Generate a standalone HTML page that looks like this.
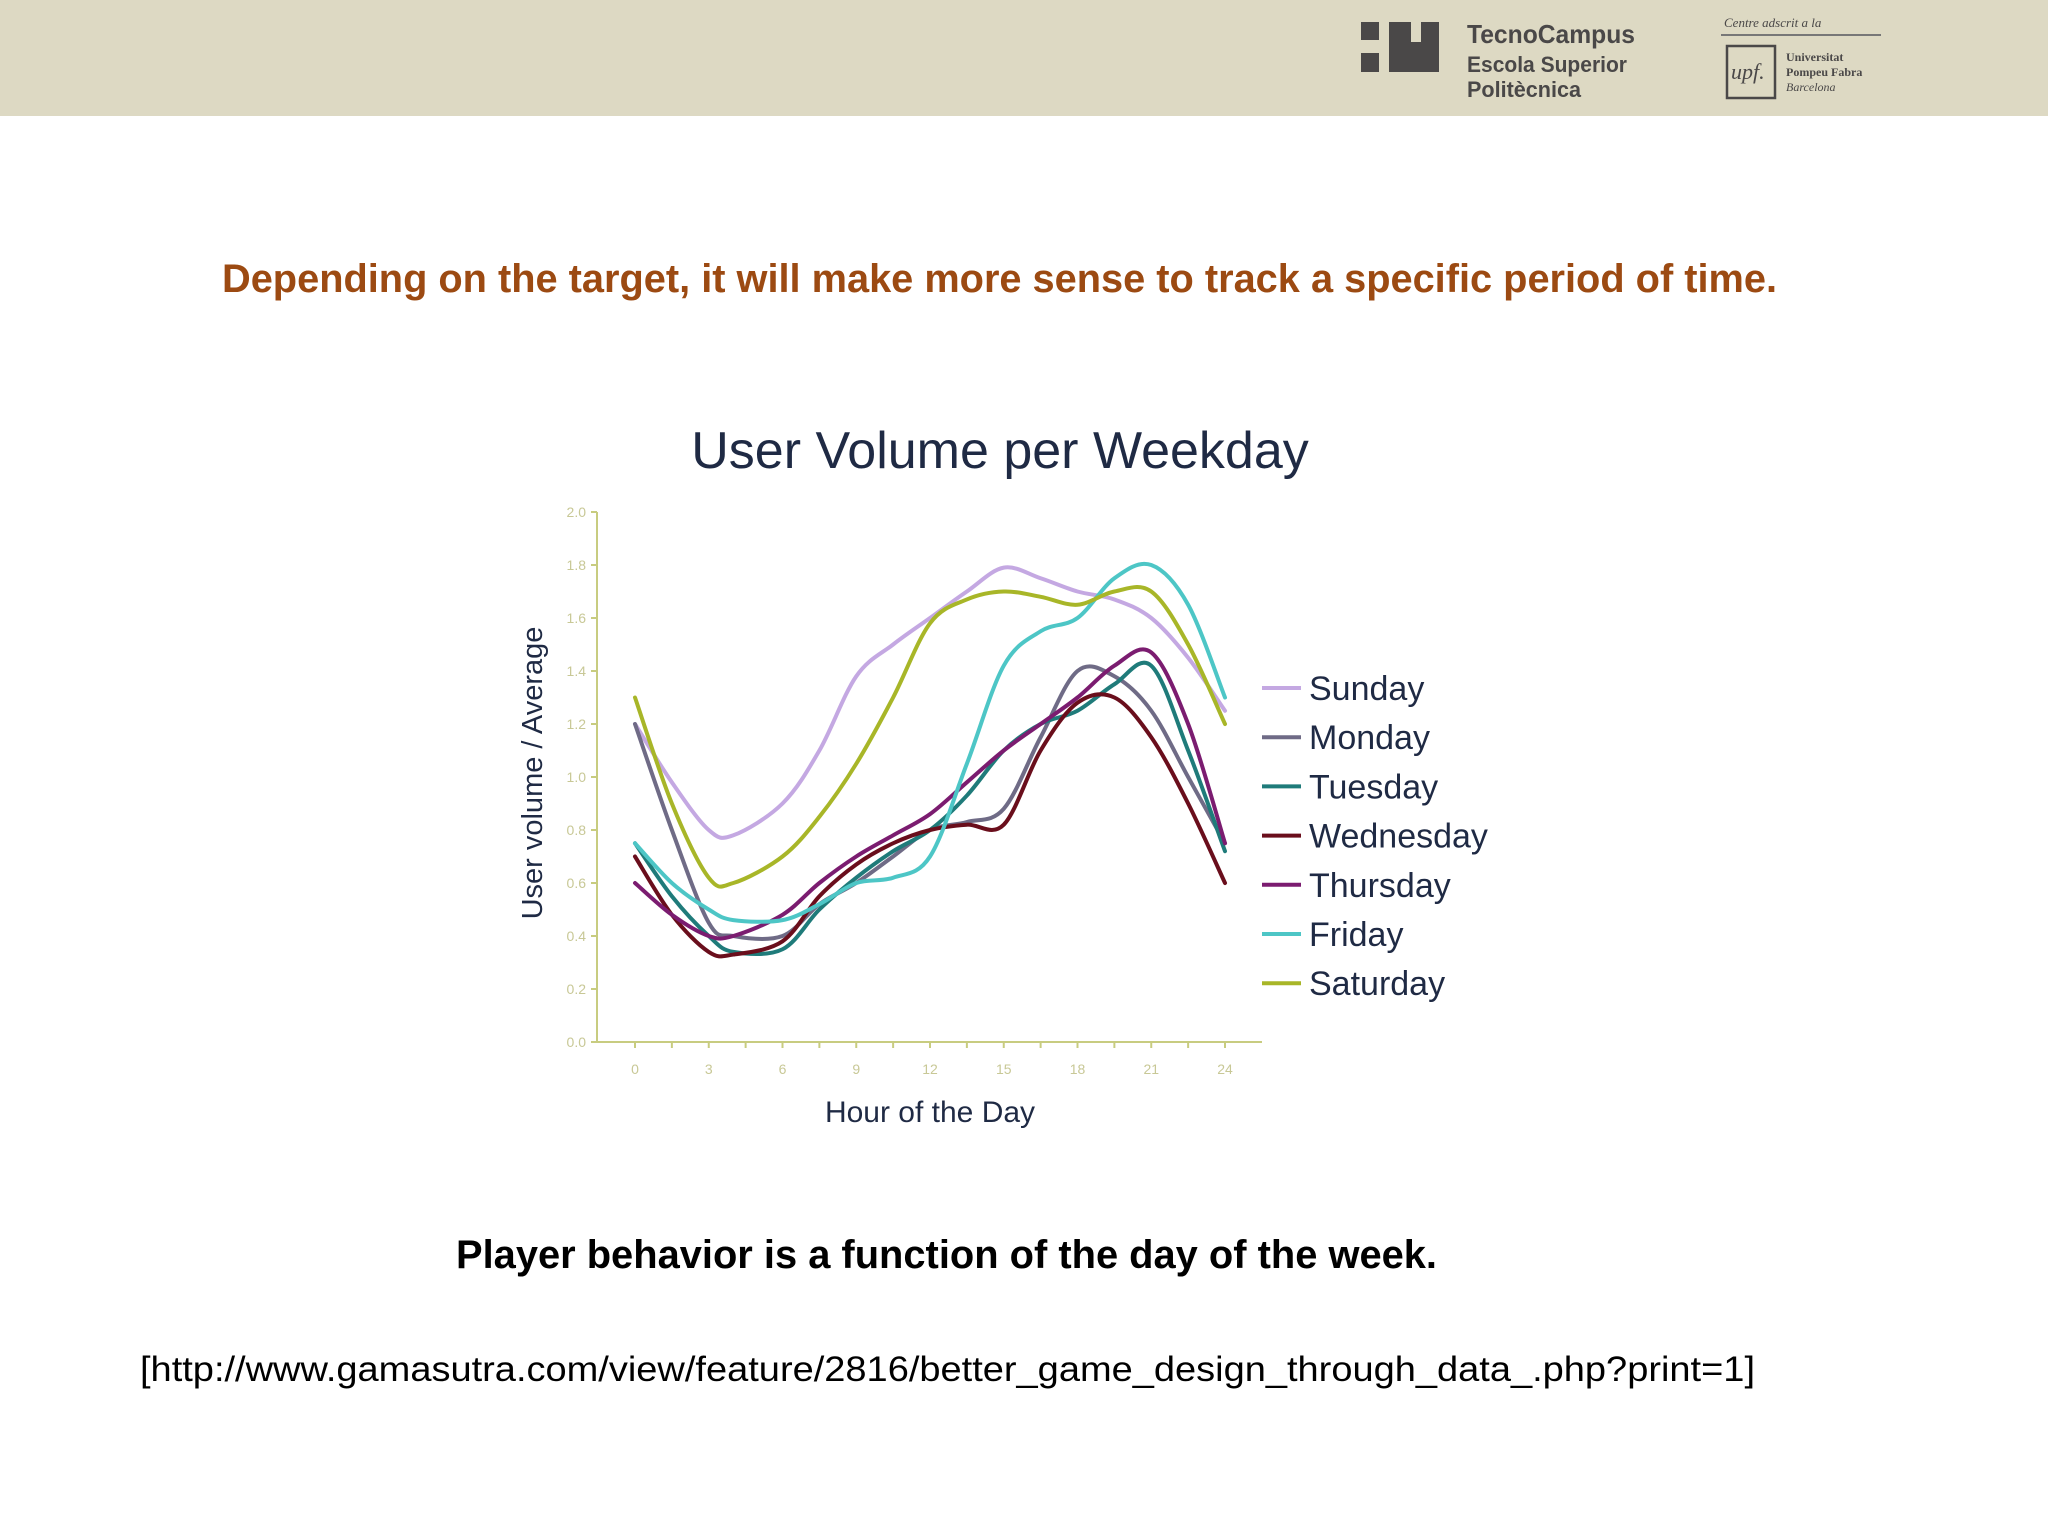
<!DOCTYPE html>
<html><head><meta charset="utf-8"><style>
html,body{margin:0;padding:0;background:#fff;}
svg{display:block;}
</style></head><body>
<svg id="page" width="2048" height="1536" viewBox="0 0 2048 1536" xmlns="http://www.w3.org/2000/svg">
  <rect x="0" y="0" width="2048" height="116" fill="#DDD9C3"/>
  <g fill="#4a4848">
    <rect x="1361" y="22" width="18" height="18"/>
    <rect x="1361" y="53" width="18" height="19"/>
    <path d="M1389 22 h22 v20 h10 v-20 h18 v50 h-50 z"/>
    <text x="1467" y="43" font-family="Liberation Sans, sans-serif" font-weight="bold" font-size="26" textLength="168" lengthAdjust="spacingAndGlyphs">TecnoCampus</text>
    <text x="1467" y="72" font-family="Liberation Sans, sans-serif" font-weight="bold" font-size="22" textLength="160" lengthAdjust="spacingAndGlyphs">Escola Superior</text>
    <text x="1467" y="97" font-family="Liberation Sans, sans-serif" font-weight="bold" font-size="22" textLength="114" lengthAdjust="spacingAndGlyphs">Politècnica</text>
  </g>
  <g fill="#4a4848">
    <text x="1724" y="27" font-family="Liberation Serif, serif" font-style="italic" font-size="13">Centre adscrit a la</text>
    <rect x="1721" y="34" width="160" height="2" fill="#777"/>
    <rect x="1727" y="46" width="48" height="52" fill="none" stroke="#4a4848" stroke-width="2.5"/>
    <text x="1731" y="79" font-family="Liberation Serif, serif" font-style="italic" font-size="22">upf.</text>
    <text x="1786" y="61" font-family="Liberation Serif, serif" font-weight="bold" font-size="12">Universitat</text>
    <text x="1786" y="76" font-family="Liberation Serif, serif" font-weight="bold" font-size="12">Pompeu Fabra</text>
    <text x="1786" y="91" font-family="Liberation Serif, serif" font-style="italic" font-size="12">Barcelona</text>
  </g>
  <text x="222" y="292" fill="#9C4A12" font-family="Liberation Sans, sans-serif" font-weight="bold" font-size="40" textLength="1555" lengthAdjust="spacingAndGlyphs">Depending on the target, it will make more sense to track a specific period of time.</text>

  <g id="chart"></g>

  <text x="456" y="1268" fill="#000" font-family="Liberation Sans, sans-serif" font-weight="bold" font-size="40" textLength="981" lengthAdjust="spacingAndGlyphs">Player behavior is a function of the day of the week.</text>
  <text x="140" y="1381" fill="#000" font-family="Liberation Sans, sans-serif" font-size="35" textLength="1615" lengthAdjust="spacingAndGlyphs">[http://www.gamasutra.com/view/feature/2816/better_game_design_through_data_.php?print=1]</text>
</svg>
<script>
const hours = [0,1.5,3,4,6,7.5,9,10.5,12,13.5,15,16.5,18,19.5,21,22.5,24];
const seriesNames = ["Sunday","Monday","Tuesday","Wednesday","Thursday","Friday","Saturday"];
const sunday =    [1.2,0.98,0.8,0.78,0.9,1.1,1.38,1.5,1.6,1.7,1.79,1.75,1.7,1.67,1.6,1.45,1.25];
const monday =    [1.2,0.8,0.45,0.4,0.4,0.52,0.6,0.7,0.8,0.83,0.88,1.15,1.4,1.38,1.25,1.0,0.75];
const tuesday =   [0.75,0.55,0.4,0.34,0.35,0.5,0.62,0.72,0.8,0.93,1.1,1.2,1.25,1.35,1.42,1.1,0.72];
const wednesday = [0.7,0.48,0.34,0.33,0.38,0.55,0.67,0.75,0.8,0.82,0.82,1.1,1.28,1.3,1.15,0.9,0.6];
const thursday =  [0.6,0.48,0.4,0.4,0.48,0.6,0.7,0.78,0.86,0.98,1.1,1.2,1.3,1.42,1.47,1.2,0.75];
const friday =    [0.75,0.6,0.5,0.46,0.46,0.52,0.6,0.62,0.7,1.05,1.42,1.55,1.6,1.75,1.8,1.65,1.3];
const saturday =  [1.3,0.9,0.62,0.6,0.7,0.85,1.05,1.3,1.58,1.67,1.7,1.68,1.65,1.7,1.7,1.5,1.2];
const yTicks = ["0.0","0.2","0.4","0.6","0.8","1.0","1.2","1.4","1.6","1.8","2.0"];
const xTicks = ["0","3","6","9","12","15","18","21","24"];
const allSeries = [sunday,monday,tuesday,wednesday,thursday,friday,saturday];
const colors = ["#C4A8E2","#6F6B86","#1F7B7A","#6A0E1C","#7B1C70","#4DC6C6","#A8B628"];

const NS="http://www.w3.org/2000/svg";
const g=document.getElementById('chart');
const x0=635,x1=1225,y0=1042,y1=512;
const xs=h=>x0+(h/24)*(x1-x0);
const ys=v=>y0-(v/2)*(y0-y1);
function mk(tag,attrs,parent){const e=document.createElementNS(NS,tag);for(const k in attrs)e.setAttribute(k,attrs[k]);(parent||g).appendChild(e);return e;}
const ff="Liberation Sans, sans-serif";

const title=mk('text',{x:1000,y:468,'text-anchor':'middle','font-family':ff,'font-size':52,fill:'#1f2a44'});
title.textContent="User Volume per Weekday";



const axY=mk('line',{x1:597,y1:y1,x2:597,y2:y0,stroke:'#c8cc80','stroke-width':2});


const axX=mk('line',{x1:597,y1:y0,x2:1262,y2:y0,stroke:'#c8cc80','stroke-width':2});



yTicks.forEach((t,i)=>{
  const v=parseFloat(t);
  mk('line',{x1:591,y1:ys(v),x2:597,y2:ys(v),stroke:'#c8cc80','stroke-width':2});
  const tx=mk('text',{x:586,y:ys(v)+5,'text-anchor':'end','font-family':ff,'font-size':14,fill:'#c8c896'});
  tx.textContent=t;
  
  
});
xTicks.forEach(t=>{
  const h=parseFloat(t);
  mk('line',{x1:xs(h),y1:y0,x2:xs(h),y2:y0+6,stroke:'#c8cc80','stroke-width':2});
  if(h<24) mk('line',{x1:xs(h+1.5),y1:y0,x2:xs(h+1.5),y2:y0+6,stroke:'#c8cc80','stroke-width':2});
  const tx=mk('text',{x:xs(h),y:1074,'text-anchor':'middle','font-family':ff,'font-size':14,fill:'#c8c896'});
  tx.textContent=t;
  
  
});
const xt=mk('text',{x:930,y:1122,'text-anchor':'middle','font-family':ff,'font-size':30,fill:'#1f2a44'});
xt.textContent="Hour of the Day";


const yt=mk('text',{x:0,y:0,'text-anchor':'middle','font-family':ff,'font-size':29,fill:'#1f2a44',transform:'translate(542,773) rotate(-90)'});
yt.textContent="User volume / Average";



function smooth(pts){
  let d=`M${pts[0][0]},${pts[0][1]}`;
  for(let i=0;i<pts.length-1;i++){
    const p0=pts[i-1]||pts[i],p1=pts[i],p2=pts[i+1],p3=pts[i+2]||p2;
    const c1=[p1[0]+(p2[0]-p0[0])/6,p1[1]+(p2[1]-p0[1])/6];
    const c2=[p2[0]-(p3[0]-p1[0])/6,p2[1]-(p3[1]-p1[1])/6];
    d+=` C${c1[0]},${c1[1]} ${c2[0]},${c2[1]} ${p2[0]},${p2[1]}`;
  }
  return d;
}
allSeries.forEach((s,i)=>{
  const pts=s.map((v,j)=>[xs(hours[j]),ys(v)]);
  const p=mk('path',{d:smooth(pts),fill:'none',stroke:colors[i],'stroke-width':4,'stroke-linejoin':'round','stroke-linecap':'round'});
  
  
});
seriesNames.forEach((n,i)=>{
  const y=688+i*49.2;
  const l=mk('line',{x1:1262,y1:y,x2:1301,y2:y,stroke:colors[i],'stroke-width':4});
  
  
  const t=mk('text',{x:1309,y:y+12,'font-family':ff,'font-size':34,fill:'#1f2a44'});
  t.textContent=n;
  
  
});
</script>
</body></html>
